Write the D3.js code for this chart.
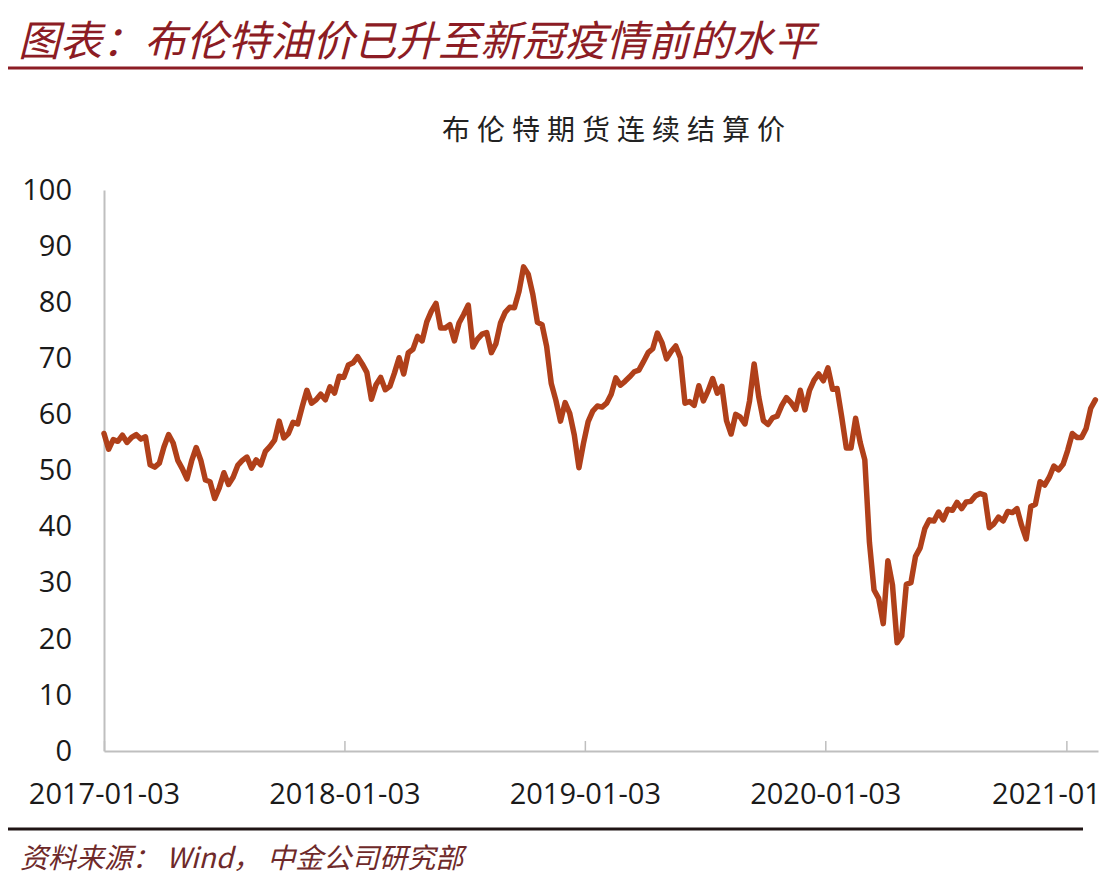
<!DOCTYPE html>
<html>
<head>
<meta charset="utf-8">
<script src="https://cdn.jsdelivr.net/npm/d3@7"></script>
<style>
    body { margin: 0; background: #fff; }
    svg { display: block; }
</style>
</head>
<body>
<script>
(function(){

    //chart texts
    var chartTitle = "图表：布伦特油价已升至新冠疫情前的水平",
        seriesName = "布伦特期货连续结算价",
        sourceText = "资料来源： Wind， 中金公司研究部";

    //axis ticks
    var yTicks = [0, 10, 20, 30, 40, 50, 60, 70, 80, 90, 100];
    var xTickDates = ["2017-01-03", "2018-01-03", "2019-01-03", "2020-01-03", "2021-01-03"];
    var xTickLabels = ["2017-01-03", "2018-01-03", "2019-01-03", "2020-01-03", "2021-01"];

    //weekly settlement prices, one value every 7 days from startDate
    var startDate = "2017-01-03",
        stepDays = 7;
    var prices = [
        // 2017
        56.6, 53.8, 55.5, 55.2, 56.3, 55.0, 55.9, 56.4, 55.6, 56.0, 51.0, 50.6, 51.3, 54.2, 56.4, 54.9,
        51.8, 50.3, 48.5, 51.7, 54.1, 51.8, 48.3, 48.0, 45.0, 46.9, 49.6, 47.5, 48.8, 50.9, 51.8, 52.4,
        50.4, 51.9, 51.0, 53.4, 54.3, 55.4, 58.8, 55.8, 56.6, 58.6, 58.3, 61.4, 64.3, 62.0, 62.6, 63.6,
        62.6, 64.9, 63.8, 66.8,
        // 2018
        66.6, 68.8, 69.2, 70.3, 69.0, 67.5, 62.7, 65.3, 66.6, 64.4, 65.0, 67.4, 70.1, 67.2, 71.0, 71.6,
        73.9, 73.1, 76.5, 78.4, 79.8, 75.4, 75.4, 76.0, 73.1, 76.3, 77.8, 79.5, 72.0, 73.4, 74.3, 74.6,
        71.0, 72.6, 76.3, 78.2, 79.1, 79.0, 81.9, 86.3, 85.0, 81.4, 76.4, 76.0, 72.1, 65.5, 62.5, 58.8,
        62.1, 60.2, 56.3, 50.5,
        // 2019
        54.9, 58.7, 60.6, 61.5, 61.3, 62.0, 63.6, 66.5, 65.2, 65.9, 66.7, 67.6, 67.9, 69.4, 71.0, 71.7,
        74.5, 72.8, 69.9, 71.2, 72.2, 70.1, 62.0, 62.3, 61.6, 65.1, 62.4, 64.2, 66.4, 63.8, 65.0, 58.9,
        56.5, 60.0, 59.5, 58.3, 62.4, 69.0, 63.1, 58.9, 58.2, 59.4, 59.7, 61.6, 63.0, 62.1, 60.9, 64.3,
        60.8, 64.3, 66.1, 67.2, 66.0,
        // 2020
        68.3, 64.5, 64.6, 59.5, 54.0, 54.0, 59.3, 55.0, 51.9, 37.2, 28.7, 27.2, 22.7, 33.9, 29.6, 19.3,
        20.5, 29.7, 30.0, 34.7, 36.2, 39.6, 41.2, 41.0, 42.6, 41.2, 43.1, 42.9, 44.3, 43.2, 44.4, 44.5,
        45.5, 45.9, 45.6, 39.8, 40.5, 41.7, 41.0, 42.7, 42.5, 43.2, 40.2, 37.8, 43.6, 44.0, 48.0, 47.4,
        48.8, 50.8, 50.1, 51.1,
        // 2021
        53.6, 56.6, 55.9, 55.9, 57.5, 61.1, 62.6
    ];

    window.onload = setChart();

    function setChart() {
        var width = 1112,
            height = 882;

        var svg = d3.select("body")
            .append("svg")
            .attr("width", width)
            .attr("height", height);

        //headline and rule under it
        svg.append("text")
            .attr("x", 18)
            .attr("y", 56)
            .attr("fill", "#8c1c24")
            .style("font-family", "'Noto Sans CJK SC', sans-serif")
            .style("font-style", "italic")
            .style("font-size", "42px")
            .text(chartTitle);

        svg.append("line")
            .attr("x1", 8).attr("x2", 1083)
            .attr("y1", 68).attr("y2", 68)
            .attr("stroke", "#8c1c24")
            .attr("stroke-width", 3);

        //series title
        svg.append("text")
            .attr("x", 617)
            .attr("y", 140)
            .attr("text-anchor", "middle")
            .attr("fill", "#222")
            .style("font-family", "'Noto Sans CJK SC', sans-serif")
            .style("font-size", "28px")
            .style("letter-spacing", "7px")
            .text(seriesName);

        //build the data rows
        var parseDate = d3.timeParse("%Y-%m-%d");
        var t0 = parseDate(startDate);
        var data = prices.map(function(v, i) {
            return { date: d3.timeDay.offset(t0, i * stepDays), value: v };
        });

        //scales
        var xScale = d3.scaleTime()
            .domain([t0, parseDate("2021-02-20")])
            .range([104, 1098]);

        var yScale = d3.scaleLinear()
            .domain([0, 100])
            .range([751, 190]);

        //y axis: plain line, labels only
        var yAxis = svg.append("g")
            .attr("transform", "translate(104,0)")
            .call(d3.axisLeft(yScale).tickValues(yTicks).tickSize(0).tickPadding(32));
        yAxis.select(".domain").attr("stroke", "#bfbfbf").attr("stroke-width", 2);
        yAxis.selectAll("text")
            .attr("fill", "#1a1a1a")
            .style("font-family", "'Open Sans', sans-serif")
            .style("font-size", "29px");

        //x axis: ticks point up into the plot
        var xAxis = svg.append("g")
            .attr("transform", "translate(0,751)")
            .call(d3.axisBottom(xScale)
                .tickValues(xTickDates.map(parseDate))
                .tickSizeInner(-10)
                .tickSizeOuter(0)
                .tickPadding(32)
                .tickFormat(function(d, i) { return xTickLabels[i]; }));
        xAxis.select(".domain").attr("stroke", "#bfbfbf").attr("stroke-width", 2);
        xAxis.selectAll(".tick line").attr("stroke", "#bfbfbf").attr("stroke-width", 1.5);
        xAxis.selectAll("text")
            .attr("fill", "#1a1a1a")
            .style("font-family", "'Open Sans', sans-serif")
            .style("font-size", "29px");
        //last label is pushed left so it stays inside the frame
        xAxis.selectAll(".tick text")
            .filter(function(d, i) { return i == xTickDates.length - 1; })
            .attr("text-anchor", "end")
            .attr("x", 34);

        //price line
        var line = d3.line()
            .x(function(d) { return xScale(d.date); })
            .y(function(d) { return yScale(d.value); });

        svg.append("path")
            .datum(data)
            .attr("d", line)
            .attr("fill", "none")
            .attr("stroke", "#b0401a")
            .attr("stroke-width", 5.5)
            .attr("stroke-linejoin", "round")
            .attr("stroke-linecap", "round");

        //bottom rule and source
        svg.append("line")
            .attr("x1", 8).attr("x2", 1083)
            .attr("y1", 829).attr("y2", 829)
            .attr("stroke", "#1f1414")
            .attr("stroke-width", 3);

        svg.append("text")
            .attr("x", 20)
            .attr("y", 868)
            .attr("fill", "#6e2a2a")
            .style("font-family", "'Noto Sans CJK SC', sans-serif")
            .style("font-style", "italic")
            .style("font-size", "28px")
            .text(sourceText);
    };
})();
</script>
</body>
</html>
